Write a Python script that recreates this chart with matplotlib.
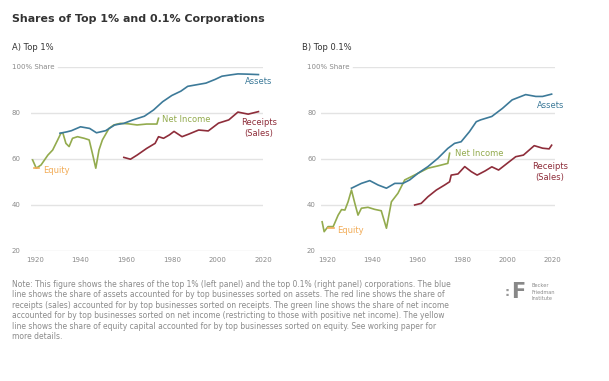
import matplotlib.pyplot as plt
import numpy as np

# ---- data ----
# A) Top 1%
a_assets_yr = [1931, 1934, 1936, 1940, 1944, 1947, 1951, 1955, 1959, 1963, 1968, 1972, 1976, 1980, 1984, 1987, 1991, 1995, 1999, 2002, 2006, 2009, 2013, 2018]
a_assets = [71.2, 71.8, 72.3, 74.0, 73.3, 71.4, 72.3, 74.8, 75.5, 77.0, 78.6, 81.3, 84.9, 87.6, 89.5, 91.6, 92.3, 93.0, 94.6, 96.0, 96.6, 97.0, 96.9, 96.7]
a_income_yr = [1919, 1920.6, 1922.7, 1925.7, 1927.8, 1930, 1931.4, 1932.3, 1933.6, 1935, 1936.5, 1938.7, 1941.6, 1943.8, 1945.2, 1946.7, 1948.1, 1949.6, 1952.5, 1954.6, 1957.5, 1961, 1964.8, 1969, 1973.5, 1974.2]
a_income = [59.6, 56.0, 57.4, 61.7, 63.9, 68.3, 71.2, 71.2, 66.8, 65.4, 69.0, 69.7, 69.0, 68.3, 62.5, 56.0, 63.9, 68.3, 73.3, 74.8, 75.5, 75.3, 74.8, 75.2, 75.2, 77.7]
a_receipts_yr = [1959, 1961.9, 1964.8, 1969, 1972.7, 1974.2, 1976.4, 1979, 1981, 1984.5, 1987.4, 1991.8, 1996, 2000.5, 2005, 2009, 2013.5, 2018]
a_receipts = [60.7, 59.9, 61.7, 64.6, 66.8, 69.7, 69.0, 70.5, 72.0, 69.7, 70.8, 72.6, 72.2, 75.6, 77.0, 80.4, 79.5, 80.6]
a_equity_yr = [1919.8, 1922]
a_equity = [56.0, 56.0]

# B) Top 0.1%
b_assets_yr = [1930.8, 1935.2, 1938.9, 1942.6, 1946.3, 1950, 1953.6, 1956.6, 1960.3, 1964.7, 1969.1, 1973.5, 1976.5, 1979.4, 1983.1, 1986.1, 1988, 1993, 1997.7, 2002, 2008, 2012.5, 2015.5, 2019.5]
b_assets = [47.3, 49.4, 50.6, 48.7, 47.3, 49.4, 49.4, 50.9, 53.8, 56.7, 60.3, 64.6, 66.8, 67.5, 71.9, 76.2, 77.0, 78.5, 82.0, 85.7, 88.0, 87.2, 87.2, 88.2]
b_income_yr = [1917.8, 1918.7, 1920.4, 1922.7, 1924.9, 1926.4, 1927.9, 1929.3, 1930.8, 1932.3, 1933.7, 1935.2, 1938.1, 1941.1, 1944, 1946.3, 1948.5, 1951.4, 1954.4, 1957.3, 1960.3, 1964.7, 1969.1, 1973.5, 1974.3]
b_income = [32.7, 28.4, 30.6, 30.6, 35.6, 38.0, 37.8, 41.4, 46.5, 40.7, 35.6, 38.6, 39.0, 38.1, 37.5, 29.9, 41.4, 45.1, 50.9, 52.3, 53.8, 56.0, 57.0, 58.1, 62.5]
b_receipts_yr = [1958.8, 1961.7, 1964.7, 1968.4, 1972.1, 1974.3, 1975, 1978, 1981, 1983.9, 1986.5, 1990, 1993, 1996, 2000.7, 2003.6, 2007, 2011.8, 2015.5, 2018.4, 2019.5]
b_receipts = [40.0, 40.7, 43.6, 46.5, 48.7, 50.1, 53.0, 53.5, 56.7, 54.5, 53.0, 54.8, 56.6, 55.2, 58.8, 61.0, 61.7, 65.8, 64.7, 64.4, 66.0]
b_equity_yr = [1920.4, 1923]
b_equity = [30.0, 30.0]

y_ticks = [20, 40, 60, 80, 100]
x_ticks = [1920, 1940, 1960, 1980, 2000, 2020]

BLUE = '#3d7a99'
RED = '#8e2d3a'
GREEN = '#93ab4e'
YELLOW = '#f2ac57'
GRID = '#e3e3e3'
TXT = '#333333'
GRAY = '#8a8a8a'

W, H = 609, 381
fig = plt.figure(figsize=(W / 100, H / 100), dpi=100)


def make_axes(x0, x1, xlim):
    # pixel box -> figure fraction (top 100% at y=67, 20 at y=251)
    ax = fig.add_axes([x0 / W, 1 - 251 / H, (x1 - x0) / W, (251 - 67) / H])
    ax.set_xlim(*xlim)
    ax.set_ylim(20, 100)
    for s in ax.spines.values():
        s.set_visible(False)
    ax.set_yticks([])
    ax.set_xticks(x_ticks)
    ax.set_xticklabels([str(t) for t in x_ticks], fontsize=5, color=GRAY)
    ax.tick_params(axis='x', length=0, pad=4)
    return ax


def grid_and_labels(ax, lab_x, top_start):
    for v in y_ticks:
        start = top_start if v == 100 else 0
        ax.axhline(v, xmin=start, xmax=1, color=GRID, lw=1, zorder=0)
        lab = '100% Share' if v == 100 else str(v)
        ax.text(lab_x, v, lab, transform=ax.get_yaxis_transform(), fontsize=5,
                color=GRAY, ha='left', va='center')


def draw(ax, assets, income, receipts, equity):
    ax.plot(*income, color=GREEN, lw=1.2, clip_on=False, zorder=3)
    ax.plot(*assets, color=BLUE, lw=1.2, clip_on=False, zorder=4)
    ax.plot(*receipts, color=RED, lw=1.2, clip_on=False, zorder=4)
    ax.plot(*equity, color=YELLOW, lw=1.2, clip_on=False, zorder=5)


# left panel
ax1 = make_axes(31, 263, (1918.3, 2019.2))
grid_and_labels(ax1, -19 / 232, 27 / 232)
draw(ax1, (a_assets_yr, a_assets), (a_income_yr, a_income),
     (a_receipts_yr, a_receipts), (a_equity_yr, a_equity))
ax1.text(2012, 93.5, 'Assets', color=BLUE, fontsize=6, ha='left', va='center')
ax1.text(1975.6, 77.2, 'Net Income', color=GREEN, fontsize=6, ha='left', va='center')
ax1.text(2018.3, 73.5, 'Receipts\n(Sales)', color=RED, fontsize=6, ha='center', va='center',
         linespacing=1.3)
ax1.text(1923.6, 55.2, 'Equity', color=YELLOW, fontsize=6, ha='left', va='center')

# right panel
ax2 = make_axes(321, 555, (1917.3, 2021.0))
grid_and_labels(ax2, -14 / 234, 32 / 234)
draw(ax2, (b_assets_yr, b_assets), (b_income_yr, b_income),
     (b_receipts_yr, b_receipts), (b_equity_yr, b_equity))
ax2.text(2012.9, 83.4, 'Assets', color=BLUE, fontsize=6, ha='left', va='center')
ax2.text(1976.6, 62.4, 'Net Income', color=GREEN, fontsize=6, ha='left', va='center')
ax2.text(2018.7, 54.4, 'Receipts\n(Sales)', color=RED, fontsize=6, ha='center', va='center',
         linespacing=1.3)
ax2.text(1924.4, 29.0, 'Equity', color=YELLOW, fontsize=6, ha='left', va='center')

# titles
fig.text(12 / W, 1 - 19 / H, 'Shares of Top 1% and 0.1% Corporations', fontsize=7.9,
         fontweight='bold', color=TXT, ha='left', va='center')
fig.text(12 / W, 1 - 47 / H, 'A) Top 1%', fontsize=6, color=TXT, ha='left', va='center')
fig.text(302 / W, 1 - 47 / H, 'B) Top 0.1%', fontsize=6, color=TXT, ha='left', va='center')

note = ("Note: This figure shows the shares of the top 1% (left panel) and the top 0.1% (right panel) corporations. The blue\n"
        "line shows the share of assets accounted for by top businesses sorted on assets. The red line shows the share of\n"
        "receipts (sales) accounted for by top businesses sorted on receipts. The green line shows the share of net income\n"
        "accounted for by top businesses sorted on net income (restricting to those with positive net income). The yellow\n"
        "line shows the share of equity capital accounted for by top businesses sorted on equity. See working paper for\n"
        "more details.")
fig.text(12 / W, 1 - 280 / H, note, fontsize=5.5, color=GRAY, ha='left', va='top', linespacing=1.2)

# logo
fig.text(505 / W, 1 - 292 / H, ':', fontsize=9, color='#999999', ha='left', va='center',
         fontweight='bold')
fig.text(511 / W, 1 - 292 / H, 'F', fontsize=15, color='#888888', ha='left', va='center',
         fontweight='bold')
fig.text(532 / W, 1 - 292 / H, 'Becker\nFriedman\nInstitute', fontsize=3.6, color=GRAY,
         ha='left', va='center', linespacing=1.4)

fig.savefig('out.png', dpi=100, facecolor='white')
